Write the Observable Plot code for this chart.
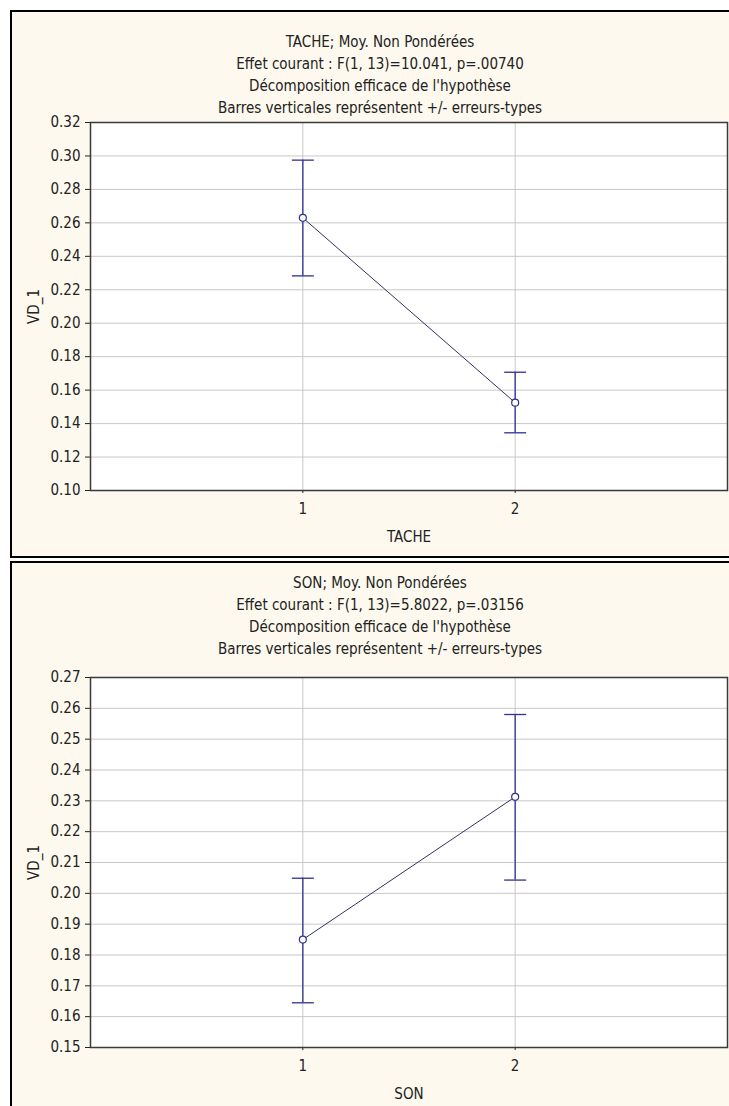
<!DOCTYPE html>
<html>
<head>
<meta charset="utf-8">
<script src="https://cdn.jsdelivr.net/npm/d3@7"></script>
<script src="https://cdn.jsdelivr.net/npm/@observablehq/plot@0.6"></script>
<style>
  html, body { margin: 0; padding: 0; background: #ffffff; }
  body { position: relative; width: 729px; height: 1106px; overflow: hidden;
         font-family: "Liberation Sans Narrow", "DejaVu Sans Condensed", "Liberation Sans", sans-serif; }
  .panel { position: absolute; left: 10px; width: 800px; box-sizing: border-box;
           border: 2px solid #000; background: #fdf9ee; }
  .titles { position: absolute; left: 10px; width: 740px; text-align: center;
            font-size: 15px; line-height: 22px; color: #222; }
  .chart { position: absolute; left: 14px; }
  .chart svg { overflow: visible; background: transparent; }
</style>
</head>
<body>
<div class="panel" style="top:10px;height:548px;"></div>
<div class="panel" style="top:561px;height:560px;"></div>
<div class="titles" id="t1" style="top:31px;"></div>
<div class="titles" id="t2" style="top:572px;"></div>
<div class="chart" id="c1" style="top:116px;"></div>
<div class="chart" id="c2" style="top:671px;"></div>
<script>
// ---- data ----
const levels = [1, 2];

const tacheTitles = [
  "TACHE; Moy. Non Pondérées",
  "Effet courant : F(1, 13)=10.041, p=.00740",
  "Décomposition efficace de l'hypothèse",
  "Barres verticales représentent +/- erreurs-types"
];
const tacheMean = [0.263, 0.1525];
const tacheHi   = [0.2975, 0.1707];
const tacheLo   = [0.2283, 0.1345];
const tacheYTicks = [0.10, 0.12, 0.14, 0.16, 0.18, 0.20, 0.22, 0.24, 0.26, 0.28, 0.30, 0.32];

const sonTitles = [
  "SON; Moy. Non Pondérées",
  "Effet courant : F(1, 13)=5.8022, p=.03156",
  "Décomposition efficace de l'hypothèse",
  "Barres verticales représentent +/- erreurs-types"
];
const sonMean = [0.185, 0.2313];
const sonHi   = [0.2049, 0.2580];
const sonLo   = [0.1645, 0.2043];
const sonYTicks = [0.15, 0.16, 0.17, 0.18, 0.19, 0.20, 0.21, 0.22, 0.23, 0.24, 0.25, 0.26, 0.27];

const xTicks = [1, 2];
const xDomain = [0, 3];

// ---- drawing ----
const blue = "#2e3192";
const capSymbol = { draw(ctx) { ctx.moveTo(-11, 0); ctx.lineTo(11, 0); } };

function drawPanel(titles, mean, hi, lo, yTicks, xLabel, height, marginBottom, titleEl, chartEl) {
  document.getElementById(titleEl).innerHTML = titles.map(t => `<div>${t}</div>`).join("");
  const data = levels.map((l, i) => ({ lvl: l, mean: mean[i], hi: hi[i], lo: lo[i] }));
  const chart = Plot.plot({
    width: 715,
    height,
    marginLeft: 76,
    marginRight: 2,
    marginTop: 6,
    marginBottom,
    style: { fontFamily: '"Liberation Sans Narrow", "DejaVu Sans Condensed", "Liberation Sans", sans-serif',
             fontSize: "15px", color: "#222", background: "transparent" },
    x: { domain: xDomain },
    y: { domain: [yTicks[0], yTicks[yTicks.length - 1]] },
    marks: [
      Plot.frame({ fill: "white" }),
      Plot.gridX(xTicks, { stroke: "#c8c8c8", strokeOpacity: 1 }),
      Plot.gridY(yTicks, { stroke: "#c8c8c8", strokeOpacity: 1 }),
      Plot.axisX(xTicks, { tickFormat: d3.format("d"), tickSize: 3, tickPadding: 10,
                           label: xLabel, labelAnchor: "center", labelOffset: 51, labelArrow: "none" }),
      Plot.axisY(yTicks, { tickFormat: d3.format(".2f"), tickSize: 5, tickPadding: 5,
                           label: "VD_1", labelAnchor: "center", labelOffset: 62, labelArrow: "none" }),
      Plot.ruleX(data, { x: "lvl", y1: "lo", y2: "hi", stroke: blue, strokeWidth: 1.3 }),
      Plot.dot(data, { x: "lvl", y: "hi", symbol: capSymbol, stroke: blue, strokeWidth: 1.3, r: 5 }),
      Plot.dot(data, { x: "lvl", y: "lo", symbol: capSymbol, stroke: blue, strokeWidth: 1.3, r: 5 }),
      Plot.line(data, { x: "lvl", y: "mean", stroke: "#33335e", strokeWidth: 1 }),
      Plot.dot(data, { x: "lvl", y: "mean", r: 3.5, stroke: blue, fill: "white", strokeWidth: 1.2 }),
      Plot.frame({ stroke: "#3a3a3a", strokeWidth: 1.5 })
    ]
  });
  document.getElementById(chartEl).appendChild(chart);
}

drawPanel(tacheTitles, tacheMean, tacheHi, tacheLo, tacheYTicks, "TACHE", 440, 66, "t1", "c1");
drawPanel(sonTitles, sonMean, sonHi, sonLo, sonYTicks, "SON", 435, 59, "t2", "c2");
</script>
</body>
</html>
